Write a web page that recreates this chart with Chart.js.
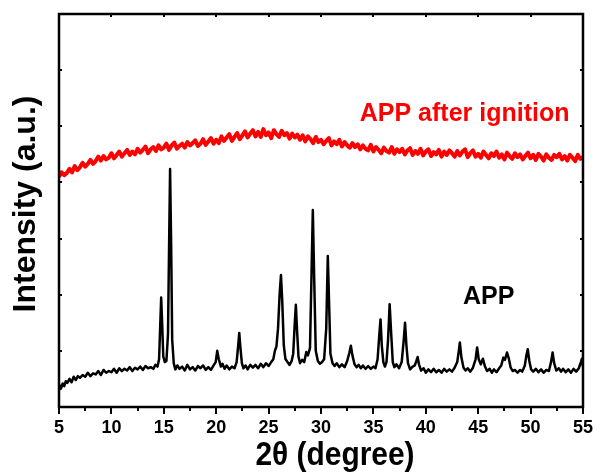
<!DOCTYPE html>
<html>
<head>
<meta charset="utf-8">
<script src="https://cdn.jsdelivr.net/npm/chart.js@4.4.1/dist/chart.umd.min.js"></script>
<style>
  body { margin: 0; background: #fff; }
  canvas { display: block; }
</style>
</head>
<body>
<canvas id="xrdChart" width="603" height="472"></canvas>
<script>
// XRD patterns (intensity in arbitrary units, offset traces)

// APP after ignition (red, amorphous hump)
const ignitionTheta = [
  5.0, 5.25, 5.5, 5.75, 6.0, 6.25, 6.5, 6.75, 7.0, 7.25, 7.5, 7.75,
  8.0, 8.25, 8.5, 8.75, 9.0, 9.25, 9.5, 9.75, 10.0, 10.25, 10.5, 10.75,
  11.0, 11.25, 11.5, 11.75, 12.0, 12.25, 12.5, 12.75, 13.0, 13.25, 13.5, 13.75,
  14.0, 14.25, 14.5, 14.75, 15.0, 15.25, 15.5, 15.75, 16.0, 16.25, 16.5, 16.75,
  17.0, 17.25, 17.5, 17.75, 18.0, 18.25, 18.5, 18.75, 19.0, 19.25, 19.5, 19.75,
  20.0, 20.25, 20.5, 20.75, 21.0, 21.25, 21.5, 21.75, 22.0, 22.25, 22.5, 22.75,
  23.0, 23.25, 23.5, 23.75, 24.0, 24.25, 24.5, 24.75, 25.0, 25.25, 25.5, 25.75,
  26.0, 26.25, 26.5, 26.75, 27.0, 27.25, 27.5, 27.75, 28.0, 28.25, 28.5, 28.75,
  29.0, 29.25, 29.5, 29.75, 30.0, 30.25, 30.5, 30.75, 31.0, 31.25, 31.5, 31.75,
  32.0, 32.25, 32.5, 32.75, 33.0, 33.25, 33.5, 33.75, 34.0, 34.25, 34.5, 34.75,
  35.0, 35.25, 35.5, 35.75, 36.0, 36.25, 36.5, 36.75, 37.0, 37.25, 37.5, 37.75,
  38.0, 38.25, 38.5, 38.75, 39.0, 39.25, 39.5, 39.75, 40.0, 40.25, 40.5, 40.75,
  41.0, 41.25, 41.5, 41.75, 42.0, 42.25, 42.5, 42.75, 43.0, 43.25, 43.5, 43.75,
  44.0, 44.25, 44.5, 44.75, 45.0, 45.25, 45.5, 45.75, 46.0, 46.25, 46.5, 46.75,
  47.0, 47.25, 47.5, 47.75, 48.0, 48.25, 48.5, 48.75, 49.0, 49.25, 49.5, 49.75,
  50.0, 50.25, 50.5, 50.75, 51.0, 51.25, 51.5, 51.75, 52.0, 52.25, 52.5, 52.75,
  53.0, 53.25, 53.5, 53.75, 54.0, 54.25, 54.5, 54.75, 55.0
];
const ignitionInt = [
  4.10, 4.18, 4.13, 4.17, 4.24, 4.18, 4.29, 4.22, 4.27, 4.35, 4.28, 4.33,
  4.40, 4.33, 4.38, 4.46, 4.39, 4.47, 4.41, 4.44, 4.52, 4.43, 4.49, 4.55,
  4.46, 4.52, 4.58, 4.49, 4.55, 4.50, 4.60, 4.53, 4.58, 4.64, 4.52, 4.59,
  4.63, 4.56, 4.66, 4.59, 4.62, 4.69, 4.58, 4.66, 4.71, 4.60, 4.65, 4.69,
  4.62, 4.72, 4.66, 4.70, 4.75, 4.65, 4.69, 4.77, 4.67, 4.73, 4.79, 4.69,
  4.76, 4.70, 4.82, 4.74, 4.80, 4.86, 4.74, 4.81, 4.88, 4.77, 4.84, 4.91,
  4.80, 4.87, 4.93, 4.82, 4.90, 4.81, 4.95, 4.84, 4.89, 4.79, 4.93, 4.86,
  4.81, 4.92, 4.84, 4.88, 4.78, 4.87, 4.80, 4.85, 4.76, 4.84, 4.73, 4.82,
  4.77, 4.70, 4.81, 4.72, 4.76, 4.68, 4.74, 4.79, 4.66, 4.73, 4.68, 4.76,
  4.64, 4.72, 4.66, 4.62, 4.70, 4.63, 4.68, 4.59, 4.66, 4.60, 4.57, 4.67,
  4.55, 4.63, 4.58, 4.52, 4.62, 4.56, 4.53, 4.63, 4.51, 4.59, 4.54, 4.60,
  4.50, 4.57, 4.61, 4.49, 4.56, 4.51, 4.60, 4.48, 4.55, 4.59, 4.47, 4.54,
  4.50, 4.58, 4.46, 4.55, 4.49, 4.57, 4.52, 4.46, 4.56, 4.48, 4.55, 4.59,
  4.45, 4.52, 4.57, 4.46, 4.51, 4.44, 4.55, 4.49, 4.43, 4.52, 4.47, 4.55,
  4.44, 4.50, 4.41, 4.53, 4.47, 4.42, 4.52, 4.45, 4.50, 4.41, 4.47, 4.53,
  4.43, 4.49, 4.40, 4.51, 4.46, 4.39, 4.50, 4.44, 4.40, 4.49, 4.45, 4.51,
  4.41, 4.47, 4.39, 4.49, 4.44, 4.38, 4.49, 4.42, 4.45
];

// APP as received (black, crystalline peaks)
const appTheta = [
  5.0, 5.1, 5.2, 5.35, 5.5, 5.65, 5.8, 6.0, 6.2, 6.4, 6.6, 6.8,
  7.0, 7.25, 7.5, 7.75, 8.0, 8.25, 8.5, 8.75, 9.0, 9.25, 9.5, 9.75,
  10.0, 10.25, 10.5, 10.75, 11.0, 11.25, 11.5, 11.75, 12.0, 12.25, 12.5, 12.75,
  13.0, 13.25, 13.5, 13.75, 14.0, 14.2, 14.4, 14.55, 14.65, 14.75, 14.85, 14.95,
  15.1, 15.25, 15.4, 15.5, 15.6, 15.7, 15.8, 15.95, 16.1, 16.3, 16.5, 16.75,
  17.0, 17.25, 17.5, 17.75, 18.0, 18.25, 18.5, 18.75, 19.0, 19.25, 19.5, 19.75,
  19.95, 20.1, 20.25, 20.45, 20.6, 20.8, 21.0, 21.25, 21.5, 21.75, 21.95, 22.1,
  22.2, 22.3, 22.45, 22.6, 22.8, 23.0, 23.25, 23.5, 23.75, 24.0, 24.25, 24.5,
  24.75, 25.0, 25.25, 25.45, 25.6, 25.75, 25.9, 26.05, 26.18, 26.3, 26.45, 26.6,
  26.8, 27.0, 27.2, 27.35, 27.5, 27.6, 27.72, 27.85, 28.0, 28.2, 28.4, 28.6,
  28.75, 28.95, 29.1, 29.22, 29.35, 29.5, 29.7, 29.9, 30.1, 30.3, 30.5, 30.65,
  30.78, 30.9, 31.1, 31.3, 31.5, 31.75, 32.0, 32.25, 32.5, 32.7, 32.85, 33.0,
  33.2, 33.4, 33.6, 33.8, 34.0, 34.25, 34.5, 34.75, 35.0, 35.2, 35.4, 35.55,
  35.68, 35.8, 35.95, 36.1, 36.25, 36.4, 36.55, 36.7, 36.85, 37.0, 37.2, 37.45,
  37.7, 37.9, 38.02, 38.15, 38.3, 38.5, 38.75, 38.95, 39.1, 39.22, 39.35, 39.55,
  39.8, 40.0, 40.25, 40.5, 40.75, 41.0, 41.25, 41.5, 41.75, 42.0, 42.25, 42.5,
  42.75, 43.0, 43.15, 43.25, 43.4, 43.6, 43.8, 44.0, 44.25, 44.5, 44.75, 44.9,
  45.05, 45.25, 45.45, 45.65, 45.85, 46.1, 46.3, 46.5, 46.75, 47.0, 47.2, 47.4,
  47.55, 47.75, 47.9, 48.1, 48.3, 48.5, 48.75, 49.0, 49.2, 49.45, 49.6, 49.73,
  49.88, 50.05, 50.25, 50.5, 50.75, 51.0, 51.25, 51.5, 51.75, 51.95, 52.1, 52.25,
  52.45, 52.7, 52.9, 53.1, 53.35, 53.6, 53.85, 54.1, 54.35, 54.6, 54.8, 54.9,
  55.0
];
const appInt = [
  0.30, 0.38, 0.33, 0.42, 0.37, 0.46, 0.43, 0.50, 0.44, 0.54, 0.48, 0.55,
  0.52, 0.57, 0.54, 0.61, 0.55, 0.60, 0.58, 0.64, 0.57, 0.66, 0.61, 0.64,
  0.62, 0.68, 0.61, 0.69, 0.64, 0.68, 0.65, 0.71, 0.64, 0.70, 0.67, 0.72,
  0.66, 0.73, 0.69, 0.71, 0.68, 0.75, 0.72, 0.85, 1.40, 1.95, 1.45, 0.90,
  0.80, 0.82, 1.30, 2.80, 4.24, 2.90, 1.20, 0.78, 0.67, 0.74, 0.68, 0.72,
  0.65, 0.75, 0.67, 0.71, 0.65, 0.73, 0.69, 0.74, 0.66, 0.71, 0.66, 0.74,
  0.80, 1.00, 0.85, 0.72, 0.77, 0.68, 0.74, 0.67, 0.72, 0.69, 0.80, 1.10,
  1.32, 1.08, 0.78, 0.69, 0.74, 0.67, 0.75, 0.70, 0.75, 0.69, 0.77, 0.71,
  0.78, 0.73, 0.80, 0.85, 1.00, 1.08, 1.40, 2.00, 2.35, 1.90, 1.10, 0.86,
  0.80, 0.75, 0.82, 0.95, 1.50, 1.82, 1.35, 0.90, 0.78, 0.84, 0.80, 0.98,
  0.92, 1.05, 2.40, 3.51, 2.30, 1.00, 0.82, 0.77, 0.80, 0.85, 1.40, 2.69,
  1.80, 0.95, 0.78, 0.73, 0.78, 0.71, 0.76, 0.71, 0.82, 0.96, 1.09, 0.92,
  0.76, 0.71, 0.75, 0.69, 0.74, 0.68, 0.73, 0.68, 0.72, 0.69, 0.85, 1.25,
  1.56, 1.10, 0.80, 0.72, 0.80, 1.20, 1.83, 1.30, 0.80, 0.71, 0.76, 0.69,
  0.80, 1.20, 1.50, 1.10, 0.78, 0.67, 0.72, 0.74, 0.82, 0.89, 0.76, 0.65,
  0.69, 0.61, 0.67, 0.62, 0.68, 0.62, 0.66, 0.61, 0.68, 0.63, 0.67, 0.63,
  0.70, 0.80, 1.00, 1.15, 0.88, 0.70, 0.65, 0.69, 0.63, 0.70, 0.85, 1.06,
  0.85, 0.76, 0.86, 0.72, 0.64, 0.68, 0.61, 0.67, 0.62, 0.69, 0.74, 0.88,
  0.84, 0.97, 0.88, 0.70, 0.64, 0.66, 0.61, 0.66, 0.63, 0.74, 0.92, 1.03,
  0.82, 0.67, 0.63, 0.68, 0.62, 0.67, 0.61, 0.66, 0.64, 0.80, 0.97, 0.78,
  0.65, 0.69, 0.63, 0.68, 0.62, 0.67, 0.61, 0.68, 0.63, 0.69, 0.80, 0.86,
  0.72
];

const xMin = 5, xMax = 55;
const yMin = 0, yMax = 7;

function toPoints(xs, ys) {
  return xs.map((x, i) => ({ x: x, y: ys[i] }));
}

const FONT = "'Liberation Sans', Arial, Helvetica, sans-serif";

// frame, tick marks, axis titles and the two trace labels
const framePlugin = {
  id: 'frame',
  afterDraw(chart) {
    const ctx = chart.ctx;
    const a = chart.chartArea;
    const xs = chart.scales.x;
    const ys = chart.scales.y;
    ctx.save();
    ctx.strokeStyle = '#000';
    ctx.lineCap = 'butt';

    // ticks along bottom (outward) and top (inward)
    ctx.lineWidth = 2;
    xs.ticks.forEach(t => {
      const px = Math.round(xs.getPixelForValue(t.value));
      const major = t.value % 5 === 0;
      ctx.beginPath();
      ctx.moveTo(px, a.bottom);
      ctx.lineTo(px, a.bottom + (major ? 7 : 4));
      if (major) {
        ctx.moveTo(px, a.top);
        ctx.lineTo(px, a.top + 3);
      }
      ctx.stroke();
    });
    // ticks left and right (inward)
    ys.ticks.forEach(t => {
      const py = Math.round(ys.getPixelForValue(t.value));
      ctx.beginPath();
      ctx.moveTo(a.left, py);
      ctx.lineTo(a.left + 3, py);
      ctx.moveTo(a.right, py);
      ctx.lineTo(a.right - 3, py);
      ctx.stroke();
    });

    ctx.lineWidth = 2.5;
    ctx.strokeRect(a.left, a.top, a.right - a.left, a.bottom - a.top);

    // y axis title
    ctx.fillStyle = '#000';
    ctx.font = 'bold 32px ' + FONT;
    ctx.textAlign = 'center';
    ctx.textBaseline = 'alphabetic';
    ctx.translate(35, 204);
    ctx.rotate(-Math.PI / 2);
    ctx.fillText('Intensity (a.u.)', 0, 0);
    ctx.restore();

    // x axis title, slightly condensed like the original
    ctx.save();
    ctx.fillStyle = '#000';
    ctx.font = 'bold 34px ' + FONT;
    ctx.textAlign = 'center';
    ctx.textBaseline = 'alphabetic';
    ctx.translate(335, 465);
    ctx.scale(0.88, 1);
    ctx.fillText('2θ (degree)', 0, 0);
    ctx.restore();

    // trace labels
    ctx.save();
    ctx.font = 'bold 25px ' + FONT;
    ctx.textAlign = 'left';
    ctx.textBaseline = 'alphabetic';
    ctx.fillStyle = '#ff0000';
    ctx.fillText('APP after ignition', xs.getPixelForValue(33.7), ys.getPixelForValue(5.09));
    ctx.fillStyle = '#000';
    ctx.fillText('APP', xs.getPixelForValue(43.55), ys.getPixelForValue(1.83));
    ctx.restore();
  }
};

const ctx = document.getElementById('xrdChart').getContext('2d');
const chart = new Chart(ctx, {
  type: 'line',
  data: {
    datasets: [
      {
        label: 'APP after ignition',
        data: toPoints(ignitionTheta, ignitionInt),
        borderColor: '#ff0000',
        borderWidth: 4,
        borderJoinStyle: 'round',
        pointRadius: 0,
        tension: 0,
        fill: false
      },
      {
        label: 'APP',
        data: toPoints(appTheta, appInt),
        borderColor: '#000000',
        borderWidth: 2.5,
        borderJoinStyle: 'round',
        pointRadius: 0,
        tension: 0,
        fill: false
      }
    ]
  },
  options: {
    responsive: false,
    animation: false,
    layout: { padding: { top: 14, right: 15, left: 0, bottom: 0 } },
    plugins: {
      legend: { display: false },
      tooltip: { enabled: false }
    },
    scales: {
      x: {
        type: 'linear',
        min: xMin,
        max: xMax,
        afterFit: s => { s.height = 65; },
        grid: { display: false, drawTicks: false },
        border: { display: false },
        ticks: {
          stepSize: 2.5,
          autoSkip: false,
          maxRotation: 0,
          padding: 10,
          color: '#000',
          font: { family: FONT, size: 18, weight: 'bold' },
          callback: v => (v % 5 === 0 ? v : '')
        },
        title: { display: false }
      },
      y: {
        min: yMin,
        max: yMax,
        afterFit: s => { s.width = 59; },
        grid: { display: false, drawTicks: false },
        border: { display: false },
        ticks: { stepSize: 1, display: false }
      }
    }
  },
  plugins: [framePlugin]
});
</script>
</body>
</html>
